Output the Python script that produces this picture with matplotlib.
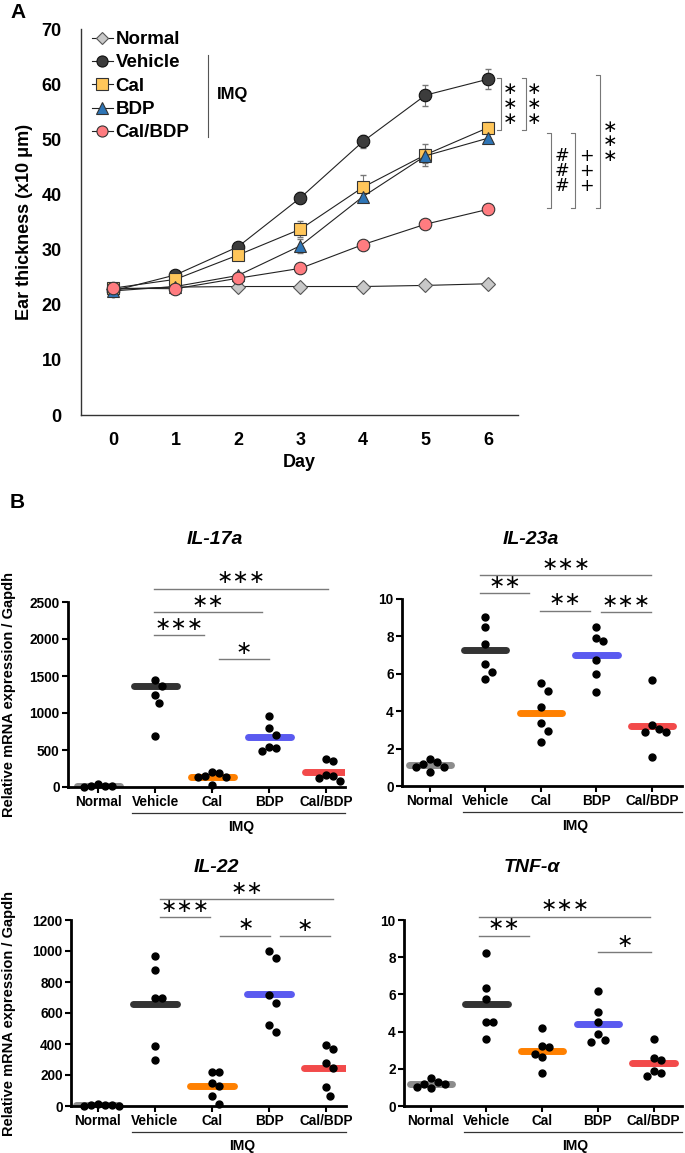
import numpy as np
import matplotlib.pyplot as plt
import matplotlib.transforms as mtransforms
from matplotlib.lines import Line2D

plt.rcParams['font.family'] = ['Liberation Sans', 'DejaVu Sans']
plt.rcParams['font.weight'] = 'bold'
plt.rcParams['axes.labelweight'] = 'bold'

# ---- panel A data (ear thickness, x10 um)
days = [0, 1, 2, 3, 4, 5, 6]
normal = [22.8, 23.2, 23.3, 23.3, 23.3, 23.5, 23.8]
vehicle = [22.5, 25.4, 30.5, 39.4, 49.6, 58.0, 60.9]
cal = [23.0, 24.6, 29.0, 33.7, 41.3, 47.2, 52.1]
bdp = [22.5, 23.3, 25.3, 30.7, 39.6, 47.0, 50.2]
calbdp = [23.0, 22.9, 24.8, 26.6, 30.9, 34.6, 37.3]
normal_err = [0.2, 0.2, 0.2, 0.2, 0.2, 0.2, 0.2]
vehicle_err = [0.3, 0.4, 0.5, 1.0, 1.2, 1.9, 1.8]
cal_err = [0.3, 0.5, 0.6, 1.4, 2.3, 2.0, 1.0]
bdp_err = [0.3, 0.3, 0.6, 1.3, 0.8, 1.3, 0.9]
calbdp_err = [0.2, 0.3, 0.4, 0.5, 0.5, 0.5, 0.5]

# ---- panel B data
groups = ['Normal', 'Vehicle', 'Cal', 'BDP', 'Cal/BDP']
il17_pts = [[10, 15, 35, 20, 5], [1440, 1360, 1250, 1130, 690], [200, 185, 150, 140, 135, 30],
            [960, 795, 705, 540, 525, 490], [385, 345, 160, 150, 115, 75]]
il17_mean = [12, 1360, 140, 670, 200]
il23_pts = [[1.0, 1.3, 1.45, 1.15, 1.0, 0.75], [9.05, 8.5, 7.6, 6.55, 6.1, 5.7],
            [5.5, 5.1, 4.2, 3.35, 2.95, 2.35], [8.5, 7.9, 7.75, 6.75, 6.0, 5.05],
            [5.65, 3.25, 2.9, 2.9, 3.05, 1.55]]
il23_mean = [1.1, 7.25, 3.9, 7.0, 3.2]
il22_pts = [[3, 5, 8, 10, 4, 2], [970, 875, 700, 700, 385, 300], [220, 220, 148, 130, 62, 15],
            [1000, 955, 715, 665, 525, 475], [395, 370, 280, 248, 125, 65]]
il22_mean = [5, 655, 130, 720, 245]
tnf_pts = [[1.2, 1.3, 1.5, 0.95, 1.2, 1.0], [8.25, 6.35, 5.75, 4.5, 4.5, 3.6],
           [4.2, 3.2, 3.15, 2.8, 2.65, 1.8], [6.2, 5.05, 4.5, 3.85, 3.45, 3.55],
           [3.6, 2.6, 2.5, 1.9, 1.6, 1.8]]
tnf_mean = [1.2, 5.5, 2.95, 4.4, 2.3]

# significance bars: (from, to, height, label)
il17_sig = [(0.98, 4.03, 2680, '***'), (0.98, 2.88, 2360, '**'), (0.98, 1.86, 2050, '***'), (2.12, 3.0, 1730, '*')]
il23_sig = [(0.9, 3.99, 11.27, '***'), (0.9, 1.79, 10.3, '**'), (1.99, 2.89, 9.38, '**'), (3.09, 3.98, 9.29, '***')]
il22_sig = [(1.09, 4.13, 1335, '**'), (1.09, 1.97, 1219, '***'), (2.15, 3.02, 1098, '*'), (3.19, 4.07, 1096, '*')]
tnf_sig = [(0.87, 3.94, 10.18, '***'), (0.87, 1.76, 9.16, '**'), (3.0, 3.96, 8.28, '*')]

bar_colors = ['#8c8c8c', '#333333', '#ff8000', '#5a5af0', '#f24a4a']

fig = plt.figure(figsize=(6.85, 11.53), dpi=100)
W, H = 685, 1153

# ================= panel A
ax = fig.add_axes([81 / W, 1 - 415 / H, 437 / W, 386 / H])
styles = [
    ('Normal', normal, normal_err, 'D', 7, '#c8c8c8', '#555555'),
    ('Vehicle', vehicle, vehicle_err, 'o', 9, '#3c3c3c', '#111111'),
    ('Cal', cal, cal_err, 's', 9, '#ffc65a', '#333333'),
    ('BDP', bdp, bdp_err, '^', 9, '#2e75b6', '#333333'),
    ('Cal/BDP', calbdp, calbdp_err, 'o', 9, '#ff7c80', '#333333'),
]
handles = []
for name, vals, err, mk, ms, fc, ec in styles:
    ax.errorbar(days, vals, yerr=err, fmt='none', ecolor='#777777', elinewidth=0.8, capsize=2.5, zorder=2)
    ax.plot(days, vals, color='#222222', lw=0.8, marker=mk, ms=ms, mfc=fc, mec=ec, mew=0.8, zorder=3)
    handles.append(Line2D([], [], color='#222222', lw=0.8, marker=mk, ms=ms - 1, mfc=fc, mec=ec, mew=0.8, label=name))

ax.set_xlim(-0.51, 6.48)
ax.set_ylim(0, 70)
ax.set_yticks(range(0, 71, 10))
ax.set_xticks(days)
ax.tick_params(length=0, labelsize=13)
ax.tick_params(axis='y', pad=14)
ax.tick_params(axis='x', pad=12)
for s in ['top', 'right']:
    ax.spines[s].set_visible(False)
for s in ['left', 'bottom']:
    ax.spines[s].set_linewidth(1.0)
    ax.spines[s].set_color('#333333')
ax.set_ylabel('Ear thickness (x10 μm)', fontsize=13, labelpad=6)
ax.set_xlabel('Day', fontsize=13, labelpad=4)

leg = ax.legend(handles=handles, loc='upper left', bbox_to_anchor=(92 / W, 1 - 31 / H),
                bbox_transform=fig.transFigure, frameon=False, fontsize=13.5, handlelength=1.1,
                handletextpad=0.15, labelspacing=0.33, borderpad=0, borderaxespad=0)
fig.add_artist(Line2D([208 / W, 208 / W], [1 - 55 / H, 1 - 137 / H], color='#555555', lw=0.8))
fig.text(233 / W, 1 - 95 / H, 'IMQ', fontsize=12, va='center', ha='center')

# brackets on the right of panel A
brackets = [(6.21, 61.1, 51.7, '∗∗∗', 6.36), (6.61, 61.1, 51.7, '∗∗∗', 6.74),
            (7.01, 51.1, 37.5, '###', 7.18), (7.39, 51.1, 37.5, '+++', 7.57),
            (7.79, 61.7, 37.5, '∗∗∗', 7.95)]
for bx, top, bot, lab, tx in brackets:
    ax.plot([bx - 0.07, bx, bx, bx - 0.07], [top, top, bot, bot], color='#777777', lw=0.8, clip_on=False)
    ax.text(tx, (top + bot) / 2, '\n'.join(lab), ha='center', va='center', fontsize=12.5,
            fontweight='normal', family=['DejaVu Sans'], linespacing=0.78, clip_on=False)

fig.text(10 / W, 1 - 13 / H, 'A', fontsize=15, va='center', ha='left')
fig.text(10 / W, 1 - 503 / H, 'B', fontsize=15, va='center', ha='left')


# ================= panel B
def swarm(vals, ppu, ppc, dx=7.0, dy=10.0):
    # spread points that would collide, like a scatter dot plot
    offs = np.zeros(len(vals))
    placed = []
    for i in np.argsort(vals)[::-1]:
        y = vals[i] * ppu
        for k in range(40):
            cands = [0.0] if k == 0 else [k * dx * 0.5, -k * dx * 0.5]
            ok = None
            for c in cands:
                if all(((c - px) / dx) ** 2 + ((y - py) / dy) ** 2 >= 1 for px, py in placed):
                    ok = c
                    break
            if ok is not None:
                offs[i] = ok / ppc
                placed.append((ok, y))
                break
    return offs


def dotplot(rect, pts, means, sig, title, ymax, ystep, xlim, title_x, title_dy, ylabel, imq_x0):
    a = fig.add_axes([rect[0] / W, 1 - rect[1] / H, rect[2] / W, rect[3] / H])
    a.set_xlim(*xlim)
    a.set_ylim(0, ymax)
    ppu = rect[3] / ymax
    ppc = rect[2] / (xlim[1] - xlim[0])
    for i, (p, m) in enumerate(zip(pts, means)):
        a.plot([i - 0.38, i + 0.38], [m, m], color=bar_colors[i], lw=5, solid_capstyle='round', zorder=2)
        off = swarm(p, ppu, ppc)
        a.plot(i + off, p, 'o', color='black', ms=5, zorder=3, clip_on=False)
    for x0, x1, yv, lab in sig:
        a.plot([x0, x1], [yv, yv], color='#7a7a7a', lw=1.0, clip_on=False)
        a.annotate(lab.replace('*', '∗'), ((x0 + x1) / 2, yv), xytext=(0, 1), textcoords='offset points',
                   ha='center', va='bottom', fontsize=14, fontweight='normal',
                   family=['DejaVu Sans'], annotation_clip=False)
    a.set_xticks(range(5))
    a.set_xticklabels(groups)
    a.set_yticks(np.arange(0, ymax + 0.01, ystep))
    a.tick_params(labelsize=9.8, width=1.5, length=4, pad=2)
    for s in ['top', 'right']:
        a.spines[s].set_visible(False)
    for s in ['left', 'bottom']:
        a.spines[s].set_linewidth(2)
    trans = mtransforms.blended_transform_factory(a.transData, a.transAxes)
    a.plot([imq_x0, xlim[1]], [-26 / rect[3]] * 2, color='#333333', lw=0.9, transform=trans, clip_on=False)
    a.text((imq_x0 + xlim[1]) / 2 + 0.05, -40 / rect[3], 'IMQ', transform=trans, ha='center', va='center', fontsize=10)
    a.text(title_x, 1 + title_dy / rect[3], title, transform=a.transAxes, ha='center', va='center',
           fontsize=14, fontstyle='italic')
    if ylabel:
        a.set_ylabel('Relative mRNA expression / Gapdh', fontsize=10.5)
        a.yaxis.set_label_coords(-(rect[0] - 16) / rect[2], 0.5)
    return a


dotplot((68, 787, 277, 185), il17_pts, il17_mean, il17_sig, 'IL-17a', 2500, 500, (-0.53, 4.33), 0.53, 63, True, 0.6)
dotplot((402, 786, 280, 187), il23_pts, il23_mean, il23_sig, 'IL-23a', 10, 2, (-0.5, 4.54), 0.46, 59, False, 0.59)
dotplot((71, 1106, 275, 186), il22_pts, il22_mean, il22_sig, 'IL-22', 1200, 200, (-0.47, 4.35), 0.53, 52, True, 0.6)
dotplot((404, 1106, 278, 186), tnf_pts, tnf_mean, tnf_sig, 'TNF-α', 10, 2, (-0.48, 4.51), 0.46, 52, False, 0.59)

fig.savefig('out.png', dpi=100)
